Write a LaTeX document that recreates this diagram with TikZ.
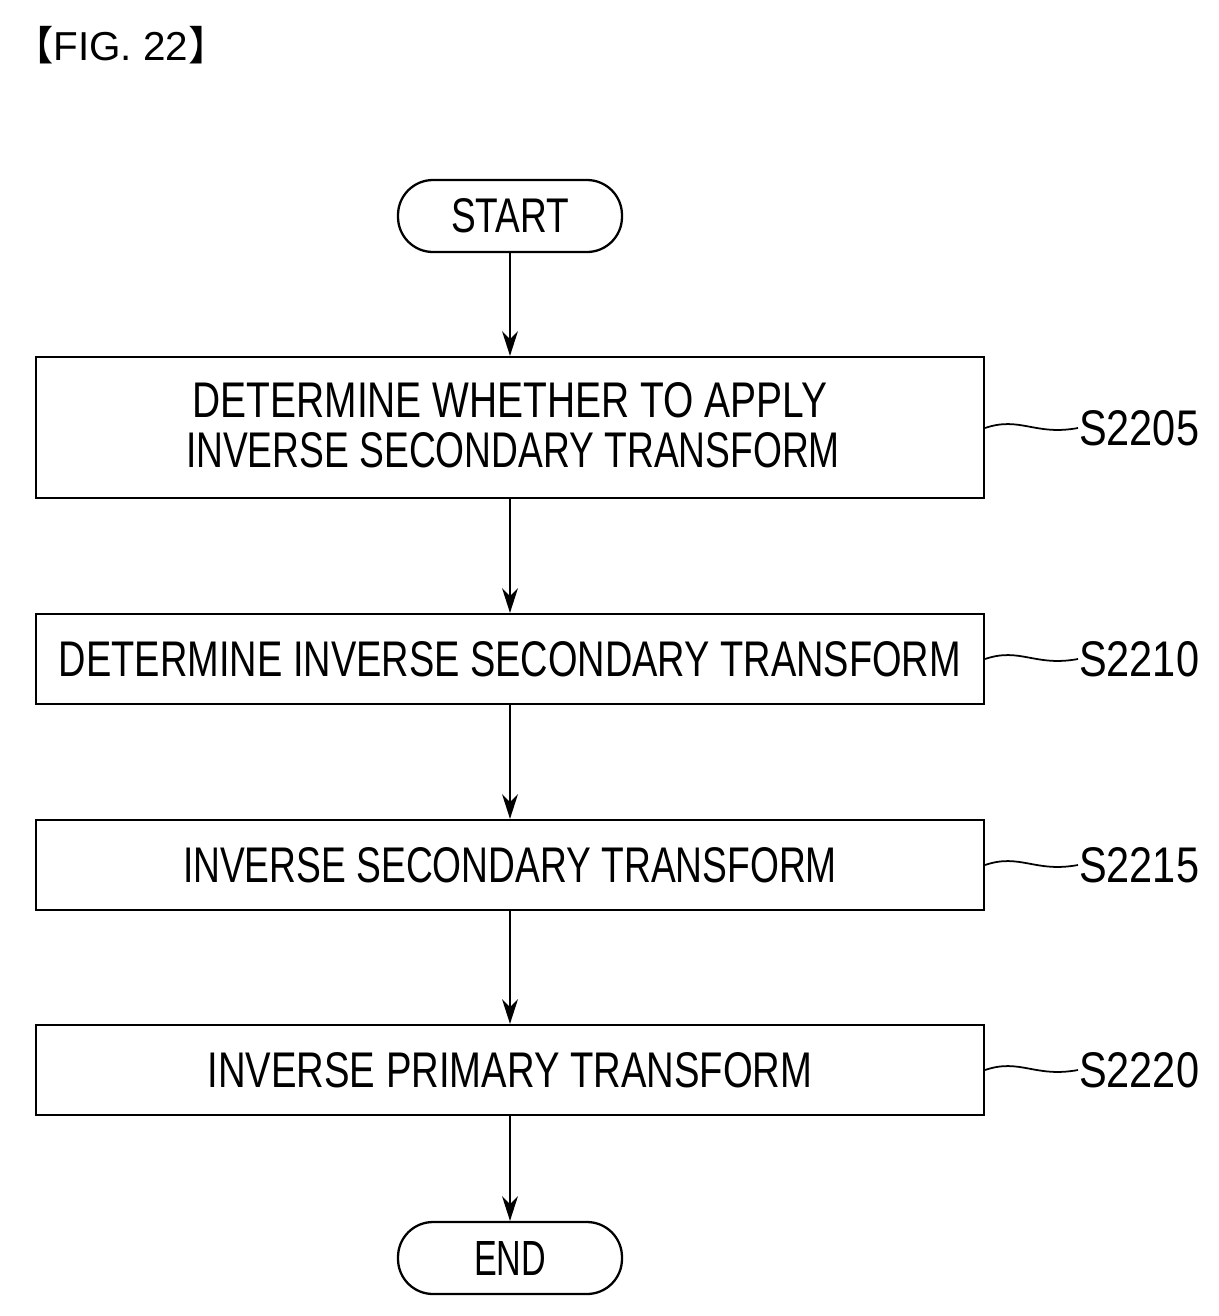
\documentclass[tikz,border=0pt]{standalone}
\usepackage{fontspec}
\setmainfont{Liberation Sans}
\newfontfamily\cjk{Noto Sans CJK JP}
\usetikzlibrary{arrows.meta}
\newcommand\tx[2]{\resizebox{#1cm}{0.7cm}{#2}}
\begin{document}
\begin{tikzpicture}[x=0.02cm,y=-0.02cm,line width=1.3pt,
  box/.style={draw,rectangle,inner sep=0pt},
  term/.style={draw,rounded corners=0.7cm,inner sep=0pt,minimum width=4.48cm,minimum height=1.44cm},
  arr/.style={-{Stealth[length=14pt,width=9pt]}},
  lbl/.style={anchor=west,inner sep=0pt}]
\useasboundingbox (0,0) rectangle (1219,1316);
\node[anchor=west,inner sep=0pt] (title) at (12,45) {\fontsize{23pt}{26pt}\selectfont{\cjk 【}FIG. 22{\cjk 】}};
\node[term] (start) at (510,216) {\resizebox{2.36cm}{0.68cm}{START}};
\node[box,minimum width=18.96cm,minimum height=2.82cm] (b1) at (510,427.5) {};
\node (t1a) at (510,400) {\tx{12.7}{DETERMINE WHETHER TO APPLY}};
\node (t1b) at (513,450) {\tx{13.08}{INVERSE SECONDARY TRANSFORM}};
\node[box,minimum width=18.96cm,minimum height=1.8cm] (b2) at (510,659) {\tx{18.04}{DETERMINE INVERSE SECONDARY TRANSFORM}};
\node[box,minimum width=18.96cm,minimum height=1.8cm] (b3) at (510,865) {\tx{13.08}{INVERSE SECONDARY TRANSFORM}};
\node[box,minimum width=18.96cm,minimum height=1.8cm] (b4) at (510,1070) {\tx{12.1}{INVERSE PRIMARY TRANSFORM}};
\node[term] (end) at (510,1258) {\resizebox{1.44cm}{0.68cm}{END}};
\draw[arr] (start) -- (b1);
\draw[arr] (b1) -- (b2);
\draw[arr] (b2) -- (b3);
\draw[arr] (b3) -- (b4);
\draw[arr] (b4) -- (end);
\foreach \n/\y/\s in {1/428/S2205,2/659/S2210,3/865/S2215,4/1070/S2220}{
  \node[lbl] (l\n) at (1078,\y) {\resizebox{2.4cm}{0.7cm}{\s}};
  \draw[line width=1pt] (b\n.east |- 0,\y) .. controls (1020,\y-12) and (1035,\y+8) .. (l\n.west);
}
\end{tikzpicture}
\end{document}
